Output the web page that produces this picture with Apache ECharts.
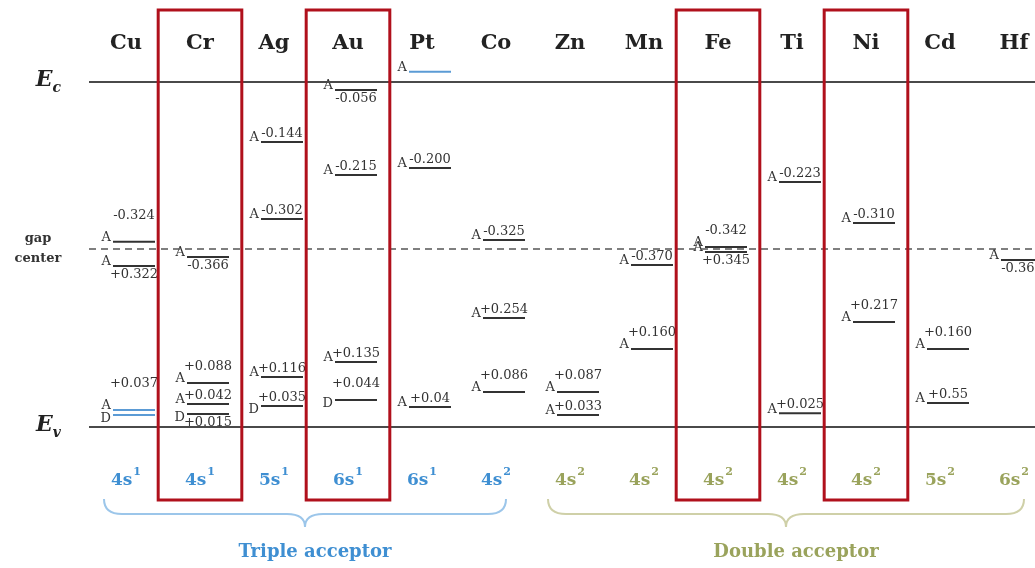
<!DOCTYPE html>
<html><head><meta charset="utf-8">
<script src="https://cdn.jsdelivr.net/npm/echarts@6/dist/echarts.min.js"></script>
<style>html,body{margin:0;padding:0;background:#fff}#c{width:1035px;height:568px}</style>
</head><body><div id="c"></div>
<script>
// ---- data ----
const elements = ['Cu','Cr','Ag','Au','Pt','Co','Zn','Mn','Fe','Ti','Ni','Cd','Hf'];
const orbitalShell = ['4s','4s','5s','6s','6s','4s','4s','4s','4s','4s','4s','5s','6s'];
const orbitalElectrons = ['1','1','1','1','1','2','2','2','2','2','2','2','2'];
const groupNames = ['Triple acceptor','Double acceptor'];
const groupFirst = ['Cu','Zn'];
const groupLast = ['Co','Hf'];
const boxedElements = ['Cr','Au','Fe','Ni'];
const bandGap = 1.12;      // Ec above Ev (eV)
const gapCenterDrawn = 0.578;
// levels: element, type (A = acceptor, D = donor), energy label, drawn height above Ev (eV, schematic)
const levelElement = ['Cu','Cu','Cu','Cu','Cr','Cr','Cr','Cr','Ag','Ag','Ag','Ag','Au','Au','Au','Au','Pt','Pt','Pt','Co','Co','Co','Zn','Zn','Mn','Mn','Fe','Fe','Ti','Ti','Ni','Ni','Cd','Cd','Hf'];
const levelType    = ['A','A','A','D','A','A','A','D','A','A','A','D','A','A','A','D','A','A','A','A','A','A','A','A','A','A','A','A','A','A','A','A','A','A','A'];
const levelEnergy  = ['-0.324','+0.322','+0.037','','-0.366','+0.088','+0.042','+0.015','-0.144','-0.302','+0.116','+0.035','-0.056','-0.215','+0.135','+0.044','','-0.200','+0.04','-0.325','+0.254','+0.086','+0.087','+0.033','-0.370','+0.160','-0.342','+0.345','-0.223','+0.025','-0.310','+0.217','+0.160','+0.55','-0.367'];
const levelDrawn   = [0.601,0.523,0.055,0.039,0.552,0.143,0.075,0.042,0.925,0.675,0.162,0.068,1.094,0.818,0.211,0.088,1.153,0.841,0.065,0.607,0.354,0.114,0.114,0.039,0.526,0.253,0.584,0.568,0.795,0.045,0.662,0.341,0.253,0.078,0.542];

// ---- style ----
const levelLabelSide = ['h','b','h','','b','a','u','b','u','u','u','u','b','u','u','a','','u','u','u','u','a','a','u','u','a','a','b','u','u','u','a','a','u','b'];
const blueLevels = [2,3,16];
const SERIF = '"DejaVu Serif", "Liberation Serif", serif';
const BLUE = '#3f8fd2', OLIVE = '#9aa35c';
const groupColor = [BLUE, OLIVE];
const braceColor = ['#9cc6ea', '#cfd0a8'];

const chart = echarts.init(document.getElementById('c'), null, {renderer: 'canvas'});

const levelData = levelElement.map((e, i) => [elements.indexOf(e), levelDrawn[i], i]);
const boxData = boxedElements.map(e => [elements.indexOf(e), 0]);
const braceData = groupNames.map((g, i) => [elements.indexOf(groupFirst[i]), elements.indexOf(groupLast[i]), i]);
const groupOf = elements.map((e, k) => k <= elements.indexOf(groupLast[0]) ? 0 : 1);

function renderLevel(params, api) {
  const i = api.value(2);
  const p = api.coord([api.value(0), api.value(1)]);
  const cx = p[0], y = p[1];
  const stroke = blueLevels.includes(i) ? '#5b9bd5' : '#333';
  const font = '13px ' + SERIF;
  const kids = [
    {type: 'line', shape: {x1: cx - 13, y1: y, x2: cx + 29, y2: y}, style: {stroke, lineWidth: 2}},
    {type: 'text', style: {text: levelType[i], x: cx - 15, y: levelType[i] === 'D' ? y + 4 : y - 4,
      align: 'right', verticalAlign: 'middle', font, fill: '#333'}}
  ];
  const lab = levelEnergy[i];
  if (lab) {
    const side = levelLabelSide[i];
    let ty, va = 'bottom';
    if (side === 'u') ty = y - 2;
    else if (side === 'a') ty = y - 10;
    else if (side === 'h') ty = y - 20;
    else { ty = y + 2; va = 'top'; }
    kids.push({type: 'text', style: {text: lab, x: cx + 8, y: ty, align: 'center', verticalAlign: va, font, fill: '#333'}});
  }
  return {type: 'group', children: kids};
}

function renderBox(params, api) {
  const c = api.coord([api.value(0), 0]);
  const bw = api.size([1, 0])[0] * 1.13;
  const top = api.coord([api.value(0), bandGap])[1] - 72;
  const bot = c[1] + 73;
  return {type: 'rect', shape: {x: c[0] - bw / 2, y: top, width: bw, height: bot - top},
    style: {fill: 'none', stroke: '#b0101c', lineWidth: 3}};
}

function renderBrace(params, api) {
  const g = api.value(2);
  const a = api.coord([api.value(0), 0]);
  const b = api.coord([api.value(1), 0]);
  const x1 = a[0] - 22, x2 = b[0] + 10, xm = (x1 + x2) / 2;
  const y0 = a[1] + 72, y1 = a[1] + 87, y2 = a[1] + 100;
  const st = {stroke: braceColor[g], lineWidth: 2, fill: 'none'};
  const r = 18;
  return {type: 'group', children: [
    {type: 'bezierCurve', shape: {x1: x1, y1: y0, cpx1: x1, cpy1: y1, x2: x1 + r, y2: y1}, style: st},
    {type: 'line', shape: {x1: x1 + r, y1: y1, x2: xm - r, y2: y1}, style: st},
    {type: 'bezierCurve', shape: {x1: xm - r, y1: y1, cpx1: xm, cpy1: y1, x2: xm, y2: y2}, style: st},
    {type: 'bezierCurve', shape: {x1: xm, y1: y2, cpx1: xm, cpy1: y1, x2: xm + r, y2: y1}, style: st},
    {type: 'line', shape: {x1: xm + r, y1: y1, x2: x2 - r, y2: y1}, style: st},
    {type: 'bezierCurve', shape: {x1: x2 - r, y1: y1, cpx1: x2, cpy1: y1, x2: x2, y2: y0}, style: st},
    {type: 'text', style: {text: groupNames[g], x: xm + 10, y: a[1] + 125, align: 'center', verticalAlign: 'middle',
      font: 'bold 18px ' + SERIF, fill: groupColor[g]}}
  ]};
}

const orbRich = {
  b: {color: BLUE, fontFamily: SERIF, fontWeight: 'bold', fontSize: 17, lineHeight: 22, verticalAlign: 'bottom'},
  bs: {color: BLUE, fontFamily: SERIF, fontWeight: 'bold', fontSize: 11, lineHeight: 22, verticalAlign: 'top', padding: [0, 0, 8, 1]},
  g: {color: OLIVE, fontFamily: SERIF, fontWeight: 'bold', fontSize: 17, lineHeight: 22, verticalAlign: 'bottom'},
  gs: {color: OLIVE, fontFamily: SERIF, fontWeight: 'bold', fontSize: 11, lineHeight: 22, verticalAlign: 'top', padding: [0, 0, 8, 1]}
};

function edgeLabel(sub) {
  return {
    show: true, position: 'start', distance: 28,
    formatter: '{e|E}{s|' + sub + '}',
    rich: {
      e: {fontFamily: SERIF, fontStyle: 'italic', fontWeight: 'bold', fontSize: 22, color: '#222', lineHeight: 26, verticalAlign: 'top'},
      s: {fontFamily: SERIF, fontStyle: 'italic', fontWeight: 'bold', fontSize: 14, color: '#222', lineHeight: 14, verticalAlign: 'bottom', padding: [8, 0, 0, 0]}
    }
  };
}

chart.setOption({
  animation: false,
  backgroundColor: '#fff',
  grid: {left: 89, right: -16, top: 82, bottom: 141, outerBoundsMode: 'none', containLabel: false},
  xAxis: [
    {type: 'category', data: elements, position: 'top', boundaryGap: true,
      axisLine: {show: false}, axisTick: {show: false}, splitLine: {show: false},
      axisLabel: {interval: 0, margin: 28, color: '#222', fontFamily: SERIF, fontWeight: 'bold', fontSize: 21}},
    {type: 'category', data: elements, position: 'bottom', boundaryGap: true,
      axisLine: {show: false}, axisTick: {show: false}, splitLine: {show: false},
      axisLabel: {interval: 0, margin: 40, rich: orbRich,
        formatter: (v, k) => groupOf[k] === 0 ? '{b|' + orbitalShell[k] + '}{bs|' + orbitalElectrons[k] + '}'
                                              : '{g|' + orbitalShell[k] + '}{gs|' + orbitalElectrons[k] + '}'}}
  ],
  yAxis: {type: 'value', min: 0, max: bandGap, show: false, splitLine: {show: false}},
  series: [
    {type: 'line', data: [], z: 1, silent: true,
      markLine: {symbol: 'none', silent: true, animation: false,
        data: [
          {yAxis: bandGap, lineStyle: {color: '#4a4a4a', width: 2, type: 'solid'}, label: edgeLabel('c')},
          {yAxis: gapCenterDrawn, lineStyle: {color: '#555', width: 1.5, type: [7, 5]},
            label: {show: true, position: 'start', distance: 26, formatter: '{g|gap}\n{g|center}',
              rich: {g: {fontFamily: SERIF, fontWeight: 'bold', fontSize: 13, color: '#333', width: 50, align: 'center', lineHeight: 20}}}},
          {yAxis: 0, lineStyle: {color: '#4a4a4a', width: 2, type: 'solid'}, label: edgeLabel('v')}
        ]}},
    {type: 'custom', name: 'levels', data: levelData, renderItem: renderLevel, clip: false, z: 3,
      encode: {x: 0, y: 1}},
    {type: 'custom', name: 'boxes', data: boxData, renderItem: renderBox, clip: false, z: 5,
      encode: {x: 0, y: 1}},
    {type: 'custom', name: 'braces', data: braceData, renderItem: renderBrace, clip: false, z: 2,
      encode: {x: 0}}
  ]
});
</script></body></html>
